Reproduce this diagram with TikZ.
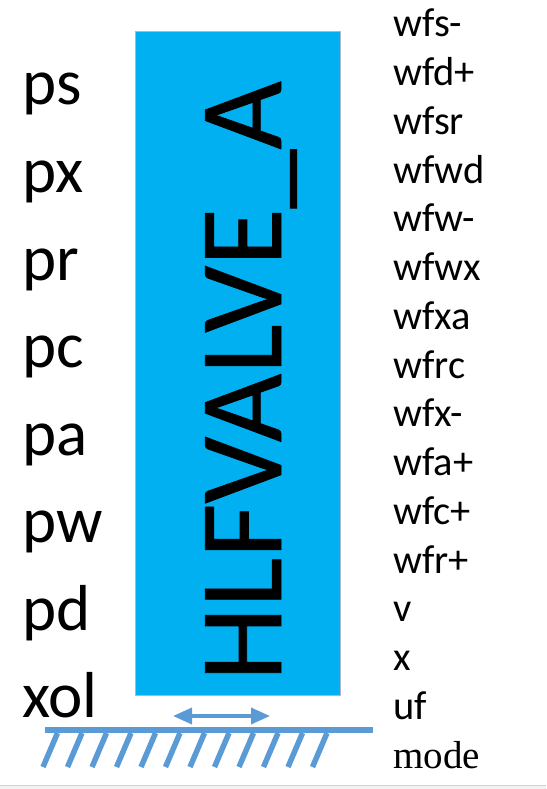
\documentclass[tikz,border=0pt]{standalone}
\usepackage{fontspec}
\setmainfont{Carlito}
\newfontfamily\serifface{Liberation Serif}
\newfontfamily\titleface[FakeBold=0.6]{Carlito}
\usepackage{tikz}
\usetikzlibrary{arrows.meta,positioning}
\definecolor{valveblue}{HTML}{00B0F0}
\definecolor{groundblue}{HTML}{5B9BD5}
\definecolor{edgegray}{HTML}{A9B8CC}
\tikzset{
  inlabel/.style={anchor=base west, inner sep=0pt, font=\fontsize{65}{65}\selectfont},
  outlabel/.style={anchor=base west, inner sep=0pt, font=\fontsize{40.5}{40.5}\selectfont},
  groundline/.style={draw=groundblue, line width=5.5pt},
}

\begin{document}
\begin{tikzpicture}[x=1pt, y=-1pt]
\useasboundingbox (0,0) rectangle (546,789);

%% Block
\filldraw[fill=valveblue, draw=edgegray, line width=0.6pt] (135,31) rectangle (340,695);
\node[rotate=90, anchor=base west, inner sep=0pt,
  font=\titleface\fontsize{118}{118}\selectfont] (title) at (281,681) {HLFVALVE\_A};

%% Inputs
\foreach \name [count=\i from 0] in {ps,px,pr,pc,pa,pw,pd,xol}
  \node[inlabel] (in\i) at (22,105+87.5*\i) {\name};

%% Outputs
\foreach \name [count=\i from 0] in {wfs-,wfd+,wfsr,wfwd,wfw-,wfwx,wfxa,wfrc,wfx-,wfa+,wfc+,wfr+,v,x,uf}
  \node[outlabel] (out\i) at (393,37+48.73*\i) {\name};
\node[outlabel, font=\serifface\fontsize{39}{39}\selectfont] (out15) at (393,768) {mode};

%% Sliding ground
\coordinate (slideL) at (173,716);
\coordinate (slideR) at (270,716);
\draw[groundblue, line width=3.5pt, {Triangle[length=19pt,width=16pt]}-{Triangle[length=19pt,width=16pt]}]
  (slideL) -- (slideR);
\coordinate (groundL) at (45,730);
\coordinate (groundR) at (373,730);
\draw[groundline] (groundL) -- (groundR);
\foreach \k in {0,...,11}
  \draw[groundline] (57.5+24.5*\k,733) -- (43+24.5*\k,767);

%% Page edge
\fill[gray!10] (0,785) rectangle (546,789);
\draw[gray!35, line width=0.8pt] (0,785) -- (546,785);

\end{tikzpicture}
\end{document}
